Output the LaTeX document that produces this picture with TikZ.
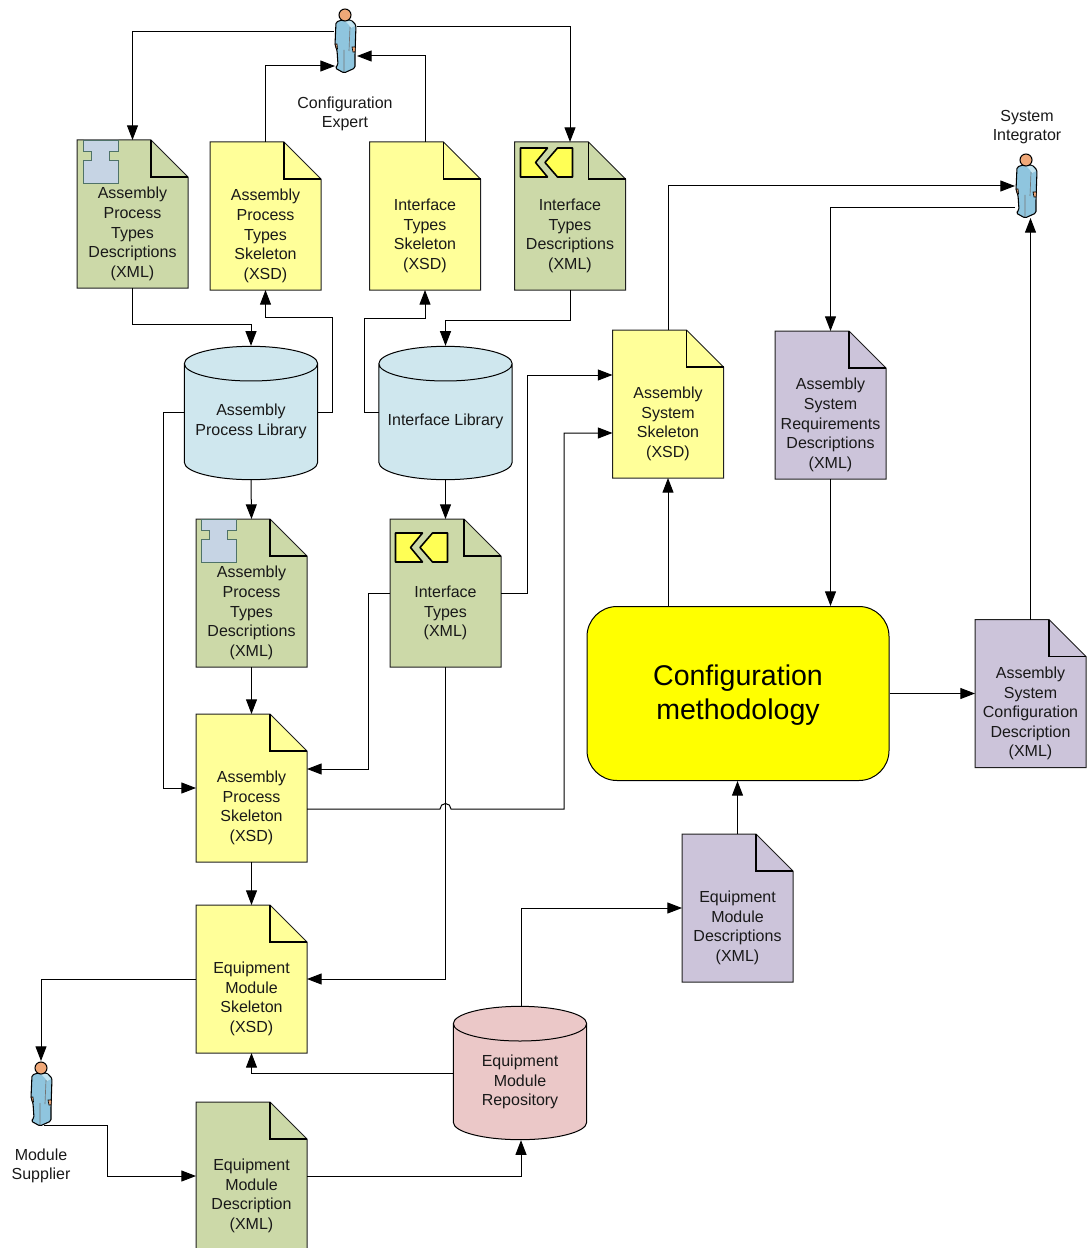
\documentclass[tikz,border=0pt]{standalone}
\usepackage{fontspec}
\setmainfont{Liberation Sans}
\usetikzlibrary{calc,arrows.meta,shapes.geometric}

\definecolor{docgreen}{HTML}{CCD9A8}
\definecolor{docyellow}{HTML}{FFFF99}
\definecolor{docpurple}{HTML}{CCC4DA}
\definecolor{libblue}{HTML}{CFE7EE}
\definecolor{libpink}{HTML}{EBC8C8}
\definecolor{methodyellow}{rgb}{1,1,0}
\definecolor{iconblue}{HTML}{C6D4E4}
\definecolor{iconedge}{HTML}{4F7268}
\definecolor{iconyellow}{HTML}{FFFF55}
\definecolor{skinorange}{HTML}{F0A878}
\definecolor{suitblue}{HTML}{8FC5DE}
\definecolor{suitlight}{HTML}{C4E4F0}
\definecolor{edgegray}{HTML}{202020}

\tikzset{
  label text/.style={font=\fontsize{12}{14.7}\selectfont,align=center,inner sep=0pt,text=black!90},
  doc/.style={minimum width=83.25pt,minimum height=111pt,inner sep=0pt,outer sep=0pt},
  docedge/.style={draw=edgegray,line width=.75pt},
  fold/.style={draw=black,line width=.9pt},
  library/.style={cylinder,anchor=shape center,shape border rotate=90,aspect=3.9,minimum width=100pt,minimum height=100pt,
    draw=black,line width=.75pt},
  conn/.style={draw=black,line width=.75pt},
  flow/.style={conn,-{Triangle[length=11pt,width=8.25pt]}},
  person/.pic={
    \fill[suitblue,draw=black,line width=.8pt,line join=round,rounded corners=1.2pt]
      (-9,-19) -- (-3,-21) -- (6,-21) -- (11,-16) -- (10,13) -- (10,27) -- (-1,32) -- (-10,27) -- (-7,24)
      -- (-8,9) -- (-10,4) -- cycle;
    \fill[suitlight] (0,-20) -- (6,-20) -- (10,-15) -- (6,-13) -- (4,-16) -- cycle;
    \draw[black!55,line width=.5pt] (5,-14) -- (4,10) (-1,9) -- (-1,31);
    \fill[skinorange,draw=black,line width=.5pt] (7,6) -- (10.5,6) -- (10,11) -- (8,11) -- cycle;
    \fill[skinorange,draw=black,line width=.5pt] (-10,3) -- (-8,3) -- (-7.5,8) -- (-8.5,8) -- cycle;
    \fill[skinorange,draw=black,line width=.8pt] (0,-26) circle (6);
  },
  ishape/.pic={
    \fill[iconblue,draw=iconedge,line width=.6pt]
      (0,0) -- (35,0) -- (35,11) -- (26,11) -- (26,20) -- (35,20) -- (35,43) -- (0,43) -- (0,20)
      -- (8,20) -- (8,11) -- (0,11) -- cycle;
  },
  chevrons/.pic={
    \fill[iconyellow,draw=black,line width=1.2pt,line join=round]
      (0,0) -- (27,0) -- (15,14.5) -- (27,29) -- (0,29) -- cycle
      (37,0) -- (52,0) -- (52,29) -- (37,29) -- (24.5,14.5) -- cycle;
  }
}

% document with a folded corner, text below the fold
\newcommand{\docnode}[4]{%
  \node[doc] (#1) at (#3) {};
  \draw[docedge,fill=#2] (#1.north west) -- ($(#1.north)+(18.5,0)$) -- ($(#1.north east)+(0,37)$)
    -- (#1.south east) -- (#1.south west) -- cycle;
  \draw[fold] ($(#1.north)+(18.5,0)$) -- ++(0,37) -- ++(37,0);
  \node[label text] (#1text) at ($(#1.center)+(0,20)$) {#4};
}

\begin{document}
\begin{tikzpicture}[x=.75pt,y=-.75pt]
  \useasboundingbox (0,0) rectangle (1086,1248);

  % documents
  \docnode{typesDesc}{docgreen}{132.5,214}{Assembly\\Process\\Types\\Descriptions\\(XML)}
  \docnode{typesSkel}{docyellow}{265.5,216}{Assembly\\Process\\Types\\Skeleton\\(XSD)}
  \docnode{ifaceSkel}{docyellow}{425,216}{Interface\\Types\\Skeleton\\(XSD)}
  \docnode{ifaceDesc}{docgreen}{570,216}{Interface\\Types\\Descriptions\\(XML)}
  \docnode{sysSkel}{docyellow}{668,404}{Assembly\\System\\Skeleton\\(XSD)}
  \docnode{sysReq}{docpurple}{830.5,405}{Assembly\\System\\Requirements\\Descriptions\\(XML)}
  \docnode{procTypes}{docgreen}{251.5,593}{Assembly\\Process\\Types\\Descriptions\\(XML)}
  \docnode{ifaceTypes}{docgreen}{445.5,593}{Interface\\Types\\(XML)}
  \docnode{procSkel}{docyellow}{251.5,788}{Assembly\\Process\\Skeleton\\(XSD)}
  \docnode{modSkel}{docyellow}{251.5,979}{Equipment\\Module\\Skeleton\\(XSD)}
  \docnode{modDesc}{docgreen}{251.5,1176}{Equipment\\Module\\Description\\(XML)}
  \docnode{modsDesc}{docpurple}{737.5,908}{Equipment\\Module\\Descriptions\\(XML)}
  \docnode{sysConf}{docpurple}{1030.5,693.5}{Assembly\\System\\Configuration\\Description\\(XML)}

  % icons on the green documents
  \pic at (83.5,140) {ishape};
  \pic at (201.5,519) {ishape};
  \pic at (520.5,148) {chevrons};
  \pic at (395.5,533) {chevrons};

  % libraries
  \node[library,fill=libblue] (procLib) at (251,413) {};
  \node[label text] (procLibtext) at (251,421.5) {Assembly\\Process Library};
  \node[library,fill=libblue] (ifaceLib) at (445.5,413) {};
  \node[label text] (ifaceLibtext) at (445.5,421.5) {Interface Library};
  \node[library,fill=libpink] (modRepo) at (520,1073) {};
  \node[label text] (modRepotext) at (520,1082) {Equipment\\Module\\Repository};

  % methodology
  \node[draw=black,line width=.75pt,fill=methodyellow,rounded corners=22.5pt,minimum width=226.5pt,minimum height=130.5pt] (method) at (738,693.5) {};
  \node[align=center,inner sep=0pt,font=\fontsize{21.4}{25.5}\selectfont] (methodtext) at (738,695.5) {Configuration\\methodology};

  % actors
  \pic at (345,41) {person};
  \pic at (1026,186) {person};
  \pic at (41,1094) {person};
  \node[label text] (expertLabel) at (345,114) {Configuration\\Expert};
  \node[label text] (integratorLabel) at (1027,127) {System\\Integrator};
  \node[label text] (supplierLabel) at (41,1166) {Module\\Supplier};
  \coordinate (expertOutL) at (334,32);
  \coordinate (expertOutR) at (357,27);
  \coordinate (expertInL) at (335,66);
  \coordinate (expertInR) at (357,56);
  \coordinate (integratorInL) at (1015,186);
  \coordinate (integratorOut) at (1015,208);
  \coordinate (integratorIn) at (1030.5,218);
  \coordinate (supplierIn) at (41,1061);
  \coordinate (supplierOut) at (44,1125);

  % connectors
  \draw[flow] (expertOutL) -| (typesDesc.north);
  \draw[flow] (expertOutR) -| (ifaceDesc.north);
  \draw[flow] (typesSkel.north) |- (expertInL);
  \draw[flow] (ifaceSkel.north) |- (expertInR);
  \draw[flow] (typesDesc.south) -- ++(0,36) -| (procLib.north);
  \draw[flow] (ifaceDesc.south) -- ++(0,30) -| (ifaceLib.north);
  \draw[flow] (318,412) -- (332,412) |- (265.5,317) -- (typesSkel.south);
  \draw[flow] (378.5,412) -- (364,412) |- (425,318) -- (ifaceSkel.south);
  \draw[flow] (184,412) -- (163,412) |- (procSkel.west);
  \draw[flow] (procLib.south) -- (procTypes.north);
  \draw[flow] (ifaceLib.south) -- (ifaceTypes.north);
  \draw[flow] (procTypes.south) -- (procSkel.north);
  \draw[flow] (ifaceTypes.west) -- ++(-22,0) |- ($(procSkel.east)+(0,-19)$);
  \draw[flow] (ifaceTypes.east) -- ++(26,0) |- ($(sysSkel.west)+(0,-29)$);
  \draw[flow] ($(procSkel.east)+(0,21)$) -- (440,809) arc (180:360:5.5) -- (564,809) |- ($(sysSkel.west)+(0,29)$);
  \draw[flow] (ifaceTypes.south) |- (modSkel.east);
  \draw[flow] (procSkel.south) -- (modSkel.north);
  \draw[flow] (modSkel.west) -| (supplierIn);
  \draw[flow] (supplierOut) -| (107,1176) -- (modDesc.west);
  \draw[flow] (modDesc.east) -| ($(modRepo.south)+(1,0)$);
  \draw[flow] (453,1073) -| (modSkel.south);
  \draw[flow] ($(modRepo.north)+(1,0)$) |- (modsDesc.west);
  \draw[flow] (modsDesc.north) -- (modsDesc.north |- method.south);
  \draw[flow] (sysSkel.south |- method.north) -- (sysSkel.south);
  \draw[flow] (sysSkel.north) |- (integratorInL);
  \draw[flow] (integratorOut) -| (sysReq.north);
  \draw[flow] (sysReq.south) -- (sysReq.south |- method.north);
  \draw[flow] (method.east) -- (sysConf.west);
  \draw[flow] (sysConf.north) -- (integratorIn);
\end{tikzpicture}
\end{document}
